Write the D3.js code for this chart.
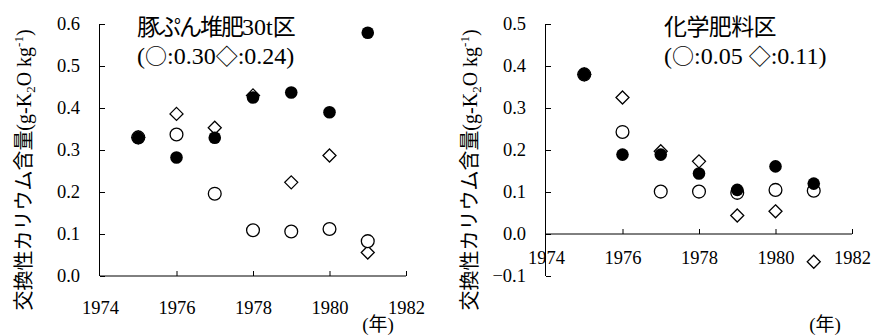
<!DOCTYPE html>
<html>
<head>
<meta charset="utf-8">
<script src="https://cdn.jsdelivr.net/npm/d3@7"></script>
<style>
  body { margin: 0; background: #fff; }
  text { font-family: "Liberation Serif", serif; fill: #000; }
  .jp { font-family: "Noto Sans CJK JP", sans-serif; }
</style>
</head>
<body>
<div id="chart"></div>
<script>
// years on the x axis
const years = [1975, 1976, 1977, 1978, 1979, 1980, 1981];
const xTicks = [1974, 1976, 1978, 1980, 1982];

// 豚ぷん堆肥30t区
const manureFilled  = [0.329, 0.282, 0.329, 0.425, 0.437, 0.390, 0.579];
const manureCircle  = [0.330, 0.337, 0.196, 0.109, 0.106, 0.112, 0.083];
const manureDiamond = [0.330, 0.386, 0.353, 0.430, 0.223, 0.287, 0.056];
const manureTicks = [0, 0.1, 0.2, 0.3, 0.4, 0.5, 0.6];

// 化学肥料区
const chemFilled  = [0.380, 0.189, 0.189, 0.144, 0.105, 0.161, 0.120];
const chemCircle  = [0.380, 0.243, 0.101, 0.101, 0.098, 0.105, 0.103];
const chemDiamond = [0.380, 0.325, 0.197, 0.173, 0.044, 0.054, -0.066];
const chemTicks = [-0.1, 0, 0.1, 0.2, 0.3, 0.4, 0.5];

const width = 872;
const height = 336;

const svg = d3.select('#chart').append('svg')
  .attr('width', width)
  .attr('height', height);

// runs: [text, isJapanese, extra attrs]
function addRuns(textSel, runs) {
  runs.forEach(r => {
    const t = textSel.append('tspan').text(r[0]);
    if (r[1]) t.attr('class', 'jp');
    Object.entries(r[2] || {}).forEach(([k, v]) => t.attr(k, v));
  });
}

function drawPanel(opt) {
  const g = svg.append('g').attr('transform', `translate(${opt.left},0)`);

  const x = d3.scaleLinear().domain([1974, 1982]).range([0, 306]);
  const y = d3.scaleLinear().domain(opt.yDomain).range([opt.bottom, 24]);

  // y axis (ticks inside)
  const yAxis = g.append('g')
    .call(d3.axisLeft(y).tickValues(opt.yTicks).tickFormat(d3.format('.1f')).tickSize(-5).tickPadding(20));
  yAxis.select('.domain').attr('d', `M-0.5,${y(opt.yDomain[0])}V${y(opt.yDomain[1])}`);
  yAxis.selectAll('.tick text').attr('font-size', 18.5);
  yAxis.attr('font-family', null);

  // x axis at y = 0 (ticks pointing up)
  const xAxis = g.append('g')
    .attr('transform', `translate(0,${y(0)})`)
    .call(d3.axisBottom(x).tickValues(xTicks).tickFormat(d3.format('d')).tickSize(-5).tickPadding(opt.xPad));
  xAxis.select('.domain').attr('d', 'M0,0H306');
  xAxis.selectAll('.tick text').attr('font-size', 18.5);
  xAxis.selectAll('.tick').filter(d => d === 1974).select('line').remove();
  xAxis.attr('font-family', null);

  // diamonds
  g.append('g').selectAll('path')
    .data(opt.diamond)
    .enter().append('path')
    .attr('transform', (d, i) => `translate(${x(years[i])},${y(d)})`)
    .attr('d', 'M0,-6.5L6.5,0L0,6.5L-6.5,0Z')
    .attr('fill', '#fff')
    .attr('stroke', '#000')
    .attr('stroke-width', 1.3);

  // open circles
  g.append('g').selectAll('circle')
    .data(opt.circle)
    .enter().append('circle')
    .attr('cx', (d, i) => x(years[i]))
    .attr('cy', d => y(d))
    .attr('r', 6.4)
    .attr('fill', '#fff')
    .attr('stroke', '#000')
    .attr('stroke-width', 1.3);

  // filled circles
  g.append('g').selectAll('circle')
    .data(opt.filled)
    .enter().append('circle')
    .attr('cx', (d, i) => x(years[i]))
    .attr('cy', d => y(d))
    .attr('r', 6.3)
    .attr('fill', '#000');

  // y axis title
  const yt = g.append('text')
    .attr('transform', `translate(${opt.titleX},170) rotate(-90)`)
    .attr('text-anchor', 'middle')
    .attr('font-size', 20)
    .attr('dy', '0.35em');
  addRuns(yt, [
    ['交換性カリウム含量', true],
    ['(g-K'],
    ['2', false, { 'font-size': 13, dy: 4 }],
    ['O kg', false, { dy: -4 }],
    ['-1', false, { 'font-size': 13, dy: -8 }],
    [')', false, { dy: 8 }]
  ]);

  // panel title
  addRuns(g.append('text').attr('x', opt.labelX).attr('y', 35).attr('font-size', 24), opt.title);
  addRuns(g.append('text').attr('x', opt.labelX).attr('y', 64).attr('font-size', 24), opt.subtitle);

  // (年)
  const yr = g.append('text')
    .attr('x', opt.yearX).attr('y', 331)
    .attr('text-anchor', 'middle')
    .attr('font-size', 19);
  addRuns(yr, [['('], ['年', true], [')']]);
}

drawPanel({
  left: 100, bottom: 276, yDomain: [0, 0.6], yTicks: manureTicks, xPad: 25,
  filled: manureFilled, circle: manureCircle, diamond: manureDiamond,
  titleX: -76, labelX: 37, yearX: 278,
  title: [
    ['豚ぷん堆肥', true, { 'font-size': 23, 'letter-spacing': -2 }],
    ['30t'],
    ['区', true, { 'font-size': 23 }]
  ],
  subtitle: [
    ['('], ['○', true, { 'font-size': 22 }], [':0.30'],
    ['◇', true, { 'font-size': 22 }], [':0.24)']
  ]
});

drawPanel({
  left: 546, bottom: 276, yDomain: [-0.1, 0.5], yTicks: chemTicks, xPad: 17,
  filled: chemFilled, circle: chemCircle, diamond: chemDiamond,
  titleX: -76, labelX: 118, yearX: 279,
  title: [
    ['化学肥料区', true, { 'font-size': 23, 'letter-spacing': -0.6 }]
  ],
  subtitle: [
    ['('], ['○', true, { 'font-size': 22 }], [':0.05 '],
    ['◇', true, { 'font-size': 22 }], [':0.11)']
  ]
});
</script>
</body>
</html>
